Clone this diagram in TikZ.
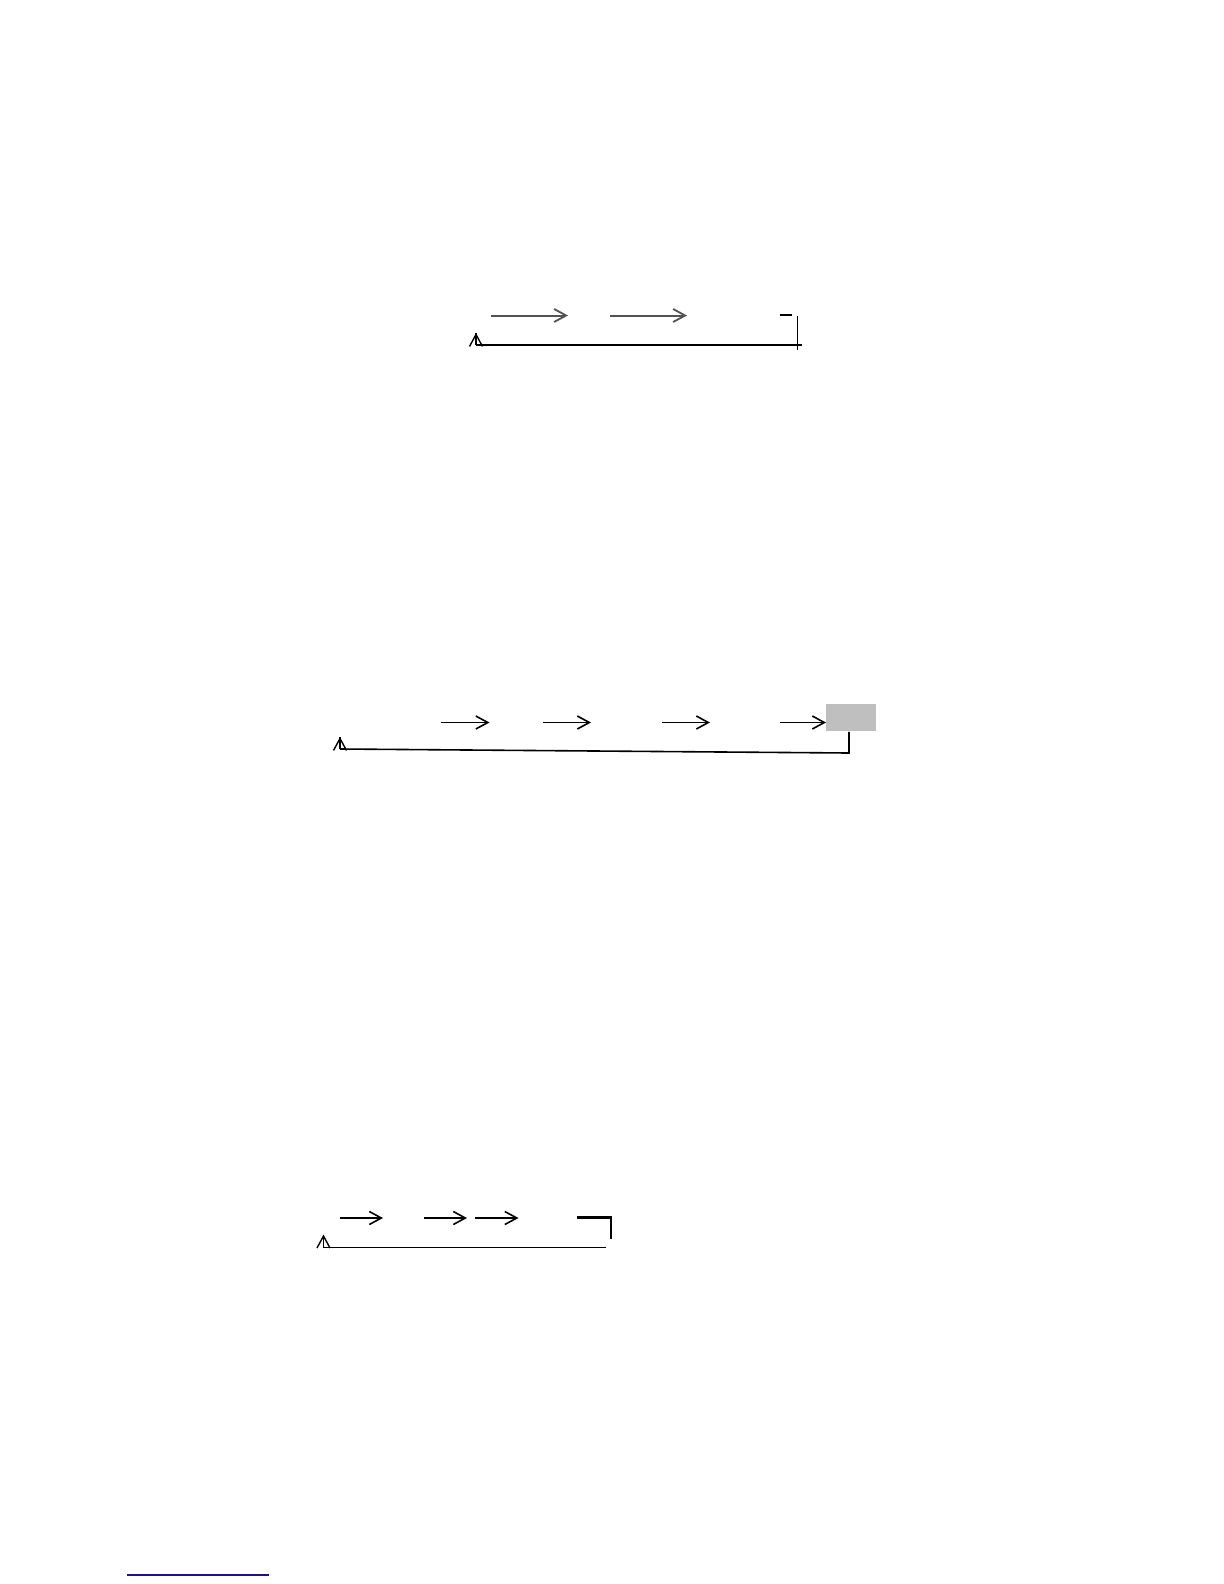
\documentclass[tikz,border=0pt]{standalone}
\usetikzlibrary{arrows.meta}
\begin{document}
\begin{tikzpicture}[x=0.5pt,y=-0.5pt,
  flow/.style={line width=0.8pt,-{Straight Barb[length=6pt,width=6.5pt,line width=0.8pt]}},
  grayflow/.style={line width=1pt,draw=black!68,-{Straight Barb[length=6pt,width=6.5pt,line width=0.9pt]}},
  back/.style={line width=0.55pt},
  upflow/.style={line width=0.55pt,-{Straight Barb[length=6pt,width=6.5pt,line width=0.7pt]}},
  stem/.style={line width=0.55pt},
  corner/.style={line width=1.1pt},
  graybox/.style={fill=black!25,draw=none,minimum width=25pt,minimum height=13.5pt,inner sep=0pt,anchor=north west}]
\useasboundingbox (0,0) rectangle (1224,1584);
% ---------- diagram 1 ----------
\coordinate (a1s) at (491,315.5); \coordinate (a1e) at (568,315.5);
\coordinate (a2s) at (610,315.5); \coordinate (a2e) at (687,315.5);
\coordinate (d1s) at (780,315); \coordinate (d1e) at (792,315);
\coordinate (v1t) at (797.5,316); \coordinate (v1b) at (797.5,350);
\coordinate (h1r) at (802,345); \coordinate (h1l) at (476,345);
\coordinate (u1t) at (476,333);
\draw[grayflow] (a1s) -- (a1e);
\draw[grayflow] (a2s) -- (a2e);
\draw[line width=1.1pt] (d1s) -- (d1e);
\draw[back] (v1t) -- (v1b);
\draw[back] (h1r) -- (h1l);
\draw[upflow] (h1l) -- (u1t);
\draw[stem] (h1l) -- (u1t);
% ---------- diagram 2 ----------
\node[graybox] (box) at (826,704) {};
\coordinate (b1s) at (441,722.5); \coordinate (b1e) at (489.5,722.5);
\coordinate (b2s) at (542.5,722.5); \coordinate (b2e) at (591,722.5);
\coordinate (b3s) at (661.5,722.5); \coordinate (b3e) at (710,722.5);
\coordinate (b4s) at (780,722.5);
\coordinate (v2b) at (849,753);
\coordinate (h2l) at (340,749);
\coordinate (u2t) at (340,737);
\draw[flow] (b1s) -- (b1e);
\draw[flow] (b2s) -- (b2e);
\draw[flow] (b3s) -- (b3e);
\draw[flow] (b4s) -- (box.west |- b4s);
\draw[line width=0.8pt] (box.south -| v2b) -- (v2b) -- (h2l);
\draw[upflow] (h2l) -- (u2t);
\draw[stem] (h2l) -- (u2t);
% ---------- diagram 3 ----------
\coordinate (c1s) at (340,1218); \coordinate (c1e) at (383,1218);
\coordinate (c2s) at (424,1218); \coordinate (c2e) at (467,1218);
\coordinate (c3s) at (475,1218); \coordinate (c3e) at (518.5,1218);
\coordinate (k1) at (576.5,1217.5); \coordinate (k2) at (611,1217.5); \coordinate (k3) at (611,1238.5);
\coordinate (h3r) at (606,1247.5); \coordinate (h3l) at (323.5,1247.5);
\coordinate (u3t) at (323.5,1234.5);
\draw[flow] (c1s) -- (c1e);
\draw[flow] (c2s) -- (c2e);
\draw[flow] (c3s) -- (c3e);
\draw[corner] (k1) -- (k2) -- (k3);
\draw[back] (h3r) -- (h3l);
\draw[upflow] (h3l) -- (u3t);
\draw[stem] (h3l) -- (u3t);
% ---------- footnote rule ----------
\coordinate (f1) at (127,1575); \coordinate (f2) at (269,1575);
\draw[line width=0.9pt,draw={rgb,255:red,20;green,20;blue,140}] (f1) -- (f2);
\end{tikzpicture}
\end{document}
